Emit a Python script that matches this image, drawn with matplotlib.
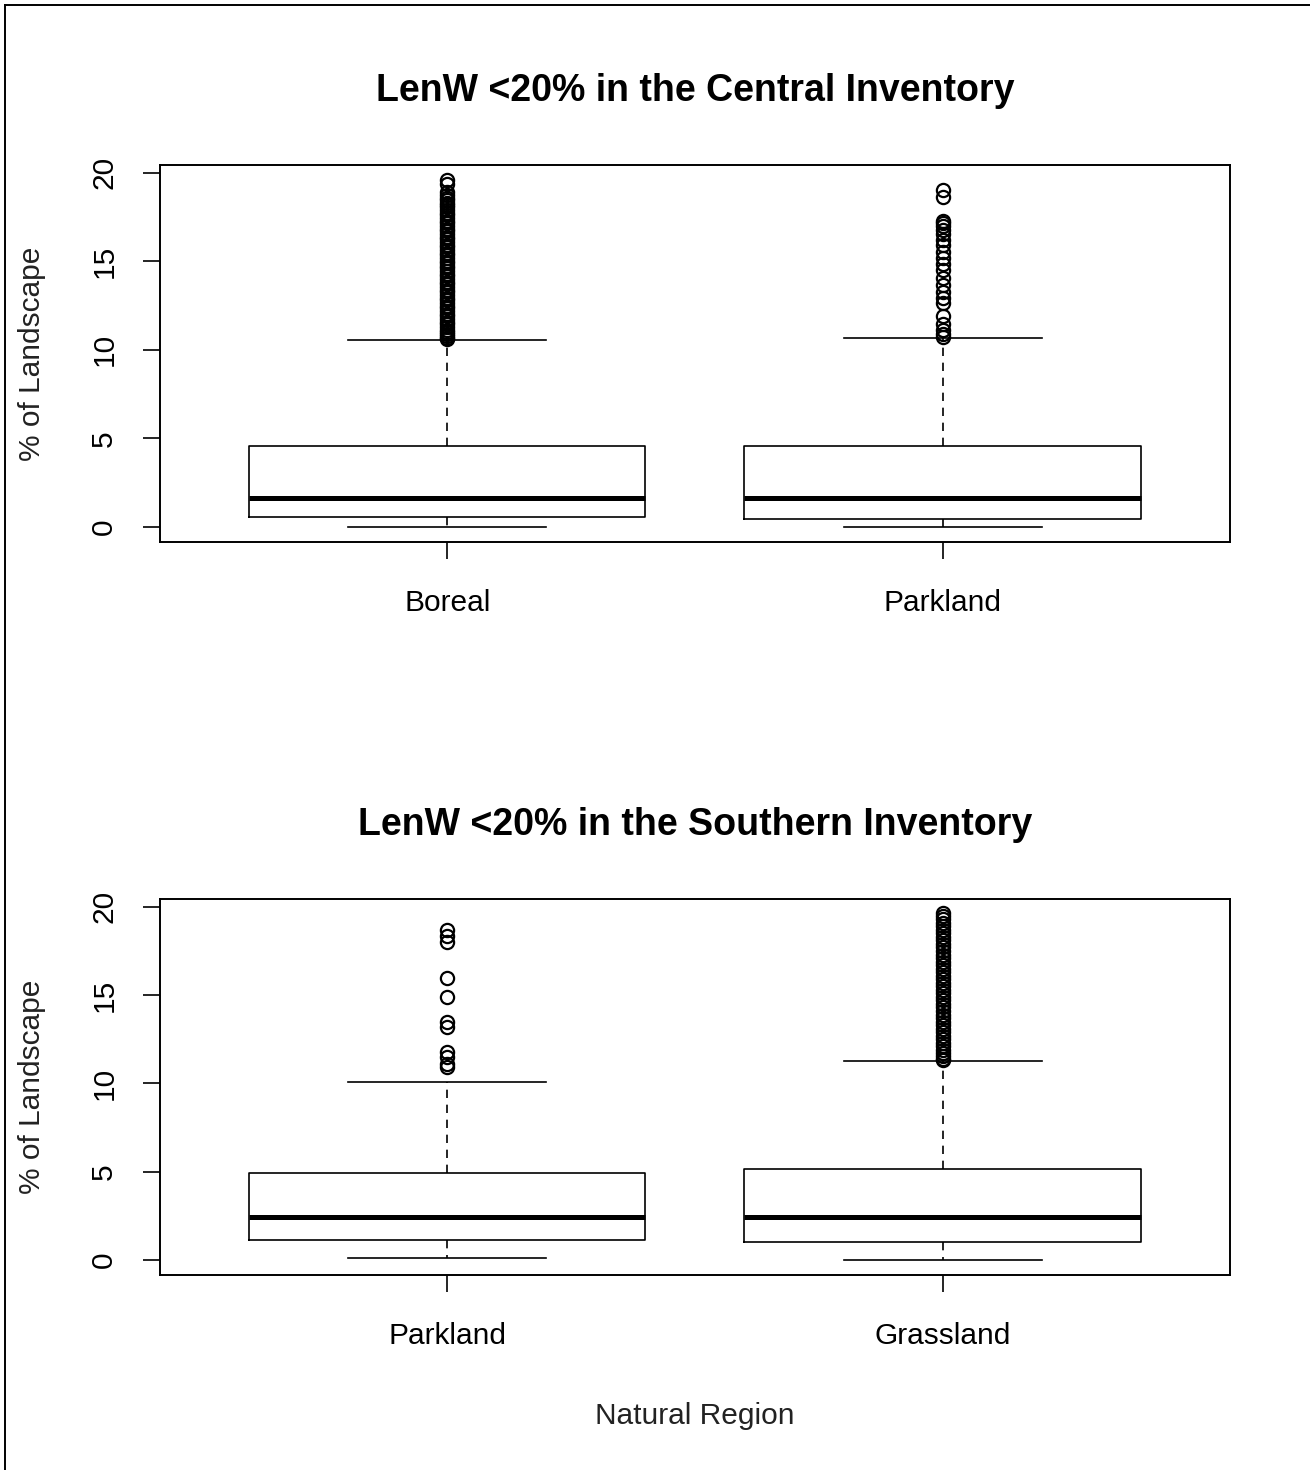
import matplotlib.pyplot as plt
from matplotlib.lines import Line2D

plt.rcParams['font.family'] = ['Liberation Sans', 'DejaVu Sans']

# Box statistics per natural region (percent of landscape)
central_regions = ['Boreal', 'Parkland']
central_q1 = [0.56, 0.45]
central_med = [1.64, 1.64]
central_q3 = [4.58, 4.58]
central_lo = [0.0, 0.0]
central_hi = [10.56, 10.68]

southern_regions = ['Parkland', 'Grassland']
southern_q1 = [1.13, 1.02]
southern_med = [2.43, 2.43]
southern_q3 = [4.92, 5.14]
southern_lo = [0.11, 0.0]
southern_hi = [10.1, 11.24]

# Outlying landscapes
boreal_out = [19.6, 19.35, 18.9, 18.75, 18.6, 18.45, 18.3, 18.2, 18.05, 17.9, 17.75,
              17.6, 17.45, 17.3, 17.15, 17.0, 16.85, 16.7, 16.55, 16.4, 16.25, 16.1,
              15.95, 15.8, 15.65, 15.5, 15.35, 15.2, 15.05, 14.9, 14.75, 14.6, 14.45,
              14.3, 14.15, 14.0, 13.85, 13.7, 13.55, 13.4, 13.25, 13.1, 12.95, 12.8,
              12.65, 12.5, 12.35, 12.2, 12.05, 11.9, 11.75, 11.6, 11.45, 11.3, 11.15,
              11.0, 10.9, 10.8, 10.7, 10.62]
parkland_c_out = [19.05, 18.65, 17.3, 17.15, 17.0, 16.8, 16.55, 16.2, 15.9, 15.55,
                  15.2, 14.85, 14.5, 14.05, 13.65, 13.3, 12.95, 12.65, 11.9, 11.45,
                  11.1, 10.9, 10.72]
parkland_s_out = [18.7, 18.35, 18.0, 15.95, 14.9, 13.5, 13.2, 11.8, 11.5, 11.1, 10.9]
grassland_out = [19.65, 19.5, 19.3, 19.1, 18.9, 18.7, 18.5, 18.3, 18.1, 17.9, 17.7,
                 17.5, 17.3, 17.1, 16.9, 16.7, 16.5, 16.3, 16.1, 15.9, 15.7, 15.5,
                 15.3, 15.1, 14.9, 14.7, 14.5, 14.3, 14.1, 13.9, 13.7, 13.5, 13.3,
                 13.1, 12.9, 12.7, 12.5, 12.3, 12.1, 11.9, 11.7, 11.55, 11.4, 11.3]


def make_stats(regions, q1, med, q3, lo, hi, fliers):
    return [dict(label=r, q1=a, med=b, q3=c, whislo=d, whishi=e, fliers=f)
            for r, a, b, c, d, e, f in zip(regions, q1, med, q3, lo, hi, fliers)]


def draw_panel(ax, stats, title, title_y):
    ax.bxp(stats, positions=[1, 2], widths=0.8, capwidths=0.4,
           boxprops=dict(color='black', linewidth=1.2),
           medianprops=dict(color='black', linewidth=3.6, solid_capstyle='butt'),
           whiskerprops=dict(color='black', linewidth=1.2, linestyle=(0, (5, 4))),
           capprops=dict(color='black', linewidth=1.2),
           flierprops=dict(marker='o', markerfacecolor='none', markeredgecolor='black',
                           markersize=9.5, markeredgewidth=1.6, linestyle='none'))
    ax.set_xlim(0.42, 2.58)
    ax.set_ylim(-0.85, 20.45)
    ax.set_yticks([0, 5, 10, 15, 20])
    ax.set_xticks([1, 2])
    ax.set_xticklabels([s['label'] for s in stats])
    ax.tick_params(direction='out', length=12, width=1.2, labelsize=21.5, color='black')
    ax.tick_params(axis='x', pad=22)
    ax.tick_params(axis='y', labelrotation=90, pad=18)
    for lab in ax.get_yticklabels():
        lab.set_va('center')
    for sp in ax.spines.values():
        sp.set_linewidth(1.4)
    ax.set_ylabel('% of Landscape', fontsize=21.5, labelpad=32, color='#222222')
    fig.text(0.5305, title_y, title, ha='center', va='center',
             fontsize=27, fontweight='bold')


fig = plt.figure(figsize=(13.1, 14.7), dpi=100)
ax1 = fig.add_axes([0.1221, 0.6313, 0.8168, 0.2565])
ax2 = fig.add_axes([0.1221, 0.1327, 0.8168, 0.2558])

draw_panel(ax1, make_stats(central_regions, central_q1, central_med, central_q3,
                           central_lo, central_hi, [boreal_out, parkland_c_out]),
           'LenW <20% in the Central Inventory', 1 - 91 / 1470)
draw_panel(ax2, make_stats(southern_regions, southern_q1, southern_med, southern_q3,
                           southern_lo, southern_hi, [parkland_s_out, grassland_out]),
           'LenW <20% in the Southern Inventory', 1 - 825 / 1470)
ax2.set_xlabel('Natural Region', fontsize=21.5, labelpad=37, color='#222222')

# thin frame along the left and top edges
fig.add_artist(Line2D([5 / 1310, 5 / 1310], [0, 1 - 5 / 1470], color='black', linewidth=1.4))
fig.add_artist(Line2D([5 / 1310, 1], [1 - 5 / 1470, 1 - 5 / 1470], color='black', linewidth=1.4))

fig.savefig('out.png', dpi=100)
